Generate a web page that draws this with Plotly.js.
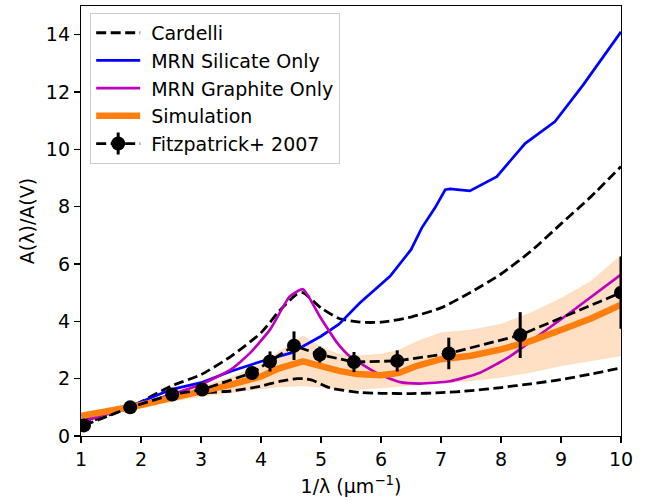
<!DOCTYPE html>
<html>
<head>
<meta charset="utf-8">
<script src="https://cdn.plot.ly/plotly-3.0.1.min.js"></script>
<style>html,body{margin:0;padding:0;background:#fff;}#chart{width:652px;height:500px;}</style>
</head>
<body>
<div id="chart"></div>
<script>
// Cardelli curves (two)
const cardX = [1, 1.5, 1.82, 2.5, 3, 3.5, 4, 4.3, 4.6, 4.7, 5, 5.3, 5.65, 6, 6.5, 7, 7.5, 8, 8.5, 9, 9.5, 10];
const cardHigh = [0.42, 0.75, 1.0, 1.74, 2.14, 2.78, 3.6, 4.35, 4.95, 5.0, 4.47, 4.1, 3.97, 3.97, 4.15, 4.47, 5.02, 5.65, 6.45, 7.4, 8.35, 9.4];
const cardLowX = [1, 1.5, 1.82, 2.5, 3, 3.5, 4, 4.3, 4.6, 4.7, 4.85, 5.15, 5.65, 6, 6.5, 7, 7.5, 8, 8.5, 9, 9.5, 10];
const cardLow = [0.4, 0.78, 1.0, 1.39, 1.5, 1.57, 1.74, 1.9, 2.0, 2.0, 1.95, 1.68, 1.52, 1.49, 1.48, 1.51, 1.58, 1.69, 1.82, 1.97, 2.16, 2.38];

// MRN silicate only
const silX = [1.05, 1.82, 2.5, 3, 3.5, 4, 4.5, 5, 5.3, 5.65, 6.15, 6.5, 6.68, 6.9, 7.07, 7.15, 7.48, 7.93, 8.4, 8.9, 9.37, 10];
const silY = [0.55, 1.04, 1.62, 1.86, 2.26, 2.6, 2.9, 3.48, 3.9, 4.65, 5.57, 6.5, 7.26, 7.96, 8.59, 8.62, 8.55, 9.05, 10.2, 10.97, 12.25, 14.1];

// MRN graphite only
const graX = [1.05, 1.82, 2.5, 3, 3.5, 3.82, 4.15, 4.48, 4.7, 4.98, 5.27, 5.48, 5.98, 6.32, 6.65, 7.15, 7.65, 8.15, 8.65, 9.15, 10];
const graY = [0.52, 1.0, 1.45, 1.8, 2.32, 2.9, 3.71, 4.87, 5.12, 4.17, 3.25, 2.78, 2.14, 1.88, 1.83, 1.91, 2.21, 2.78, 3.54, 4.3, 5.63];

// Simulation with band
const simX = [1, 1.5, 2, 2.5, 3, 3.5, 4, 4.3, 4.7, 5, 5.3, 5.6, 6, 6.3, 6.6, 7, 7.5, 8, 8.5, 9, 9.5, 10];
const simY = [0.7, 0.88, 1.08, 1.32, 1.55, 1.79, 2.08, 2.36, 2.6, 2.43, 2.27, 2.16, 2.12, 2.2, 2.45, 2.68, 2.8, 3.02, 3.32, 3.7, 4.1, 4.58];
const simUp = [0.82, 0.98, 1.15, 1.42, 1.72, 2.05, 2.5, 2.95, 3.5, 3.1, 2.85, 2.8, 2.85, 3.0, 3.3, 3.6, 3.7, 3.9, 4.3, 4.8, 5.4, 6.3];
const simLo = [0.58, 0.8, 0.98, 1.2, 1.38, 1.52, 1.66, 1.72, 1.75, 1.7, 1.62, 1.62, 1.68, 1.72, 1.78, 1.84, 1.93, 2.05, 2.22, 2.45, 2.62, 2.8];

// Fitzpatrick+ 2007
const fitX = [1.05, 1.82, 2.52, 3.02, 3.85, 4.15, 4.55, 4.98, 5.55, 6.27, 7.13, 8.32, 10.0];
const fitY = [0.37, 1.0, 1.45, 1.62, 2.2, 2.6, 3.15, 2.84, 2.58, 2.62, 2.88, 3.52, 5.0];
const fitErr = [0.08, 0.05, 0.1, 0.1, 0.12, 0.35, 0.5, 0.28, 0.35, 0.37, 0.55, 0.8, 1.26];

const dash = '10px,4.5px';
const traces = [
  {x: simX, y: simLo, mode: 'lines', line: {width: 0.8, color: 'rgba(255,127,14,0.15)'}, showlegend: false, hoverinfo: 'skip'},
  {x: simX, y: simUp, mode: 'lines', fill: 'tonexty', fillcolor: 'rgba(255,127,14,0.24)', line: {width: 0.8, color: 'rgba(255,127,14,0.15)'}, showlegend: false, hoverinfo: 'skip'},
  {x: cardX, y: cardHigh, mode: 'lines', name: 'Cardelli', legendgroup: 'c', line: {color: 'black', width: 2.8, dash: dash, shape: 'spline', smoothing: 0.6}},
  {x: cardLowX, y: cardLow, mode: 'lines', name: 'Cardelli', legendgroup: 'c', showlegend: false, line: {color: 'black', width: 2.8, dash: dash, shape: 'spline', smoothing: 0.6}},
  {x: silX, y: silY, mode: 'lines', name: 'MRN Silicate Only', line: {color: '#0000ff', width: 2.7}},
  {x: graX, y: graY, mode: 'lines', name: 'MRN Graphite Only', line: {color: '#bf00bf', width: 2.7, shape: 'spline', smoothing: 0.5}},
  {x: simX, y: simY, mode: 'lines', name: 'Simulation', line: {color: '#ff7f0e', width: 6.5}},
  {x: fitX, y: fitY, mode: 'lines+markers', name: 'Fitzpatrick+ 2007',
   line: {color: 'black', width: 2.8, dash: dash}, marker: {color: 'black', size: 14},
   error_y: {type: 'data', array: fitErr, visible: true, color: 'black', thickness: 3, width: 0}}
];

const font = {family: 'DejaVu Sans, sans-serif', size: 19, color: 'black'};
const layout = {
  width: 652, height: 500,
  margin: {l: 81, r: 31, t: 6, b: 63.5},
  paper_bgcolor: 'white', plot_bgcolor: 'white',
  font: font,
  showlegend: true,
  legend: {x: 0.017, y: 0.984, xanchor: 'left', yanchor: 'top', bgcolor: 'rgba(255,255,255,0.8)', bordercolor: '#cccccc', borderwidth: 1, font: font, itemwidth: 50, traceorder: 'normal'},
  xaxis: {range: [1, 10], tickvals: [1,2,3,4,5,6,7,8,9,10], ticks: 'outside', ticklen: 6, tickwidth: 1.2, tickcolor: 'black',
    showline: true, mirror: true, linecolor: 'black', linewidth: 1.2, showgrid: false, zeroline: false,
    tickfont: font, title: {text: '1/λ (μm<sup>−1</sup>)', font: font, standoff: 10}},
  yaxis: {range: [0, 15], tickvals: [0,2,4,6,8,10,12,14], ticks: 'outside', ticklen: 6, tickwidth: 1.2, tickcolor: 'black',
    showline: true, mirror: true, linecolor: 'black', linewidth: 1.2, showgrid: false, zeroline: false,
    tickfont: font, title: {text: 'A(λ)/A(V)', font: font, standoff: 6}}
};
Plotly.newPlot('chart', traces, layout, {displayModeBar: false, staticPlot: true}).then(function (gd) {
  // widen legend symbols to match the reference handle length
  gd.querySelectorAll('.legend .legendlines path').forEach(function (p) { p.setAttribute('d', 'M5,0h44'); });
  const items = gd.querySelectorAll('.legend .traces');
  items.forEach(function (it) {
    it.querySelectorAll('.legendpoints path.scatterpts').forEach(function (p) { p.setAttribute('transform', 'translate(27,0)'); });
  });
  const last = items[items.length - 1];
  if (last) {
    const pts = last.querySelector('.legendpoints');
    if (pts) {
      const bar = document.createElementNS('http://www.w3.org/2000/svg', 'path');
      bar.setAttribute('d', 'M27,-11V11');
      bar.setAttribute('style', 'stroke:black;stroke-width:3px;fill:none');
      pts.insertBefore(bar, pts.firstChild);
    }
  }
});
</script>
</body>
</html>
